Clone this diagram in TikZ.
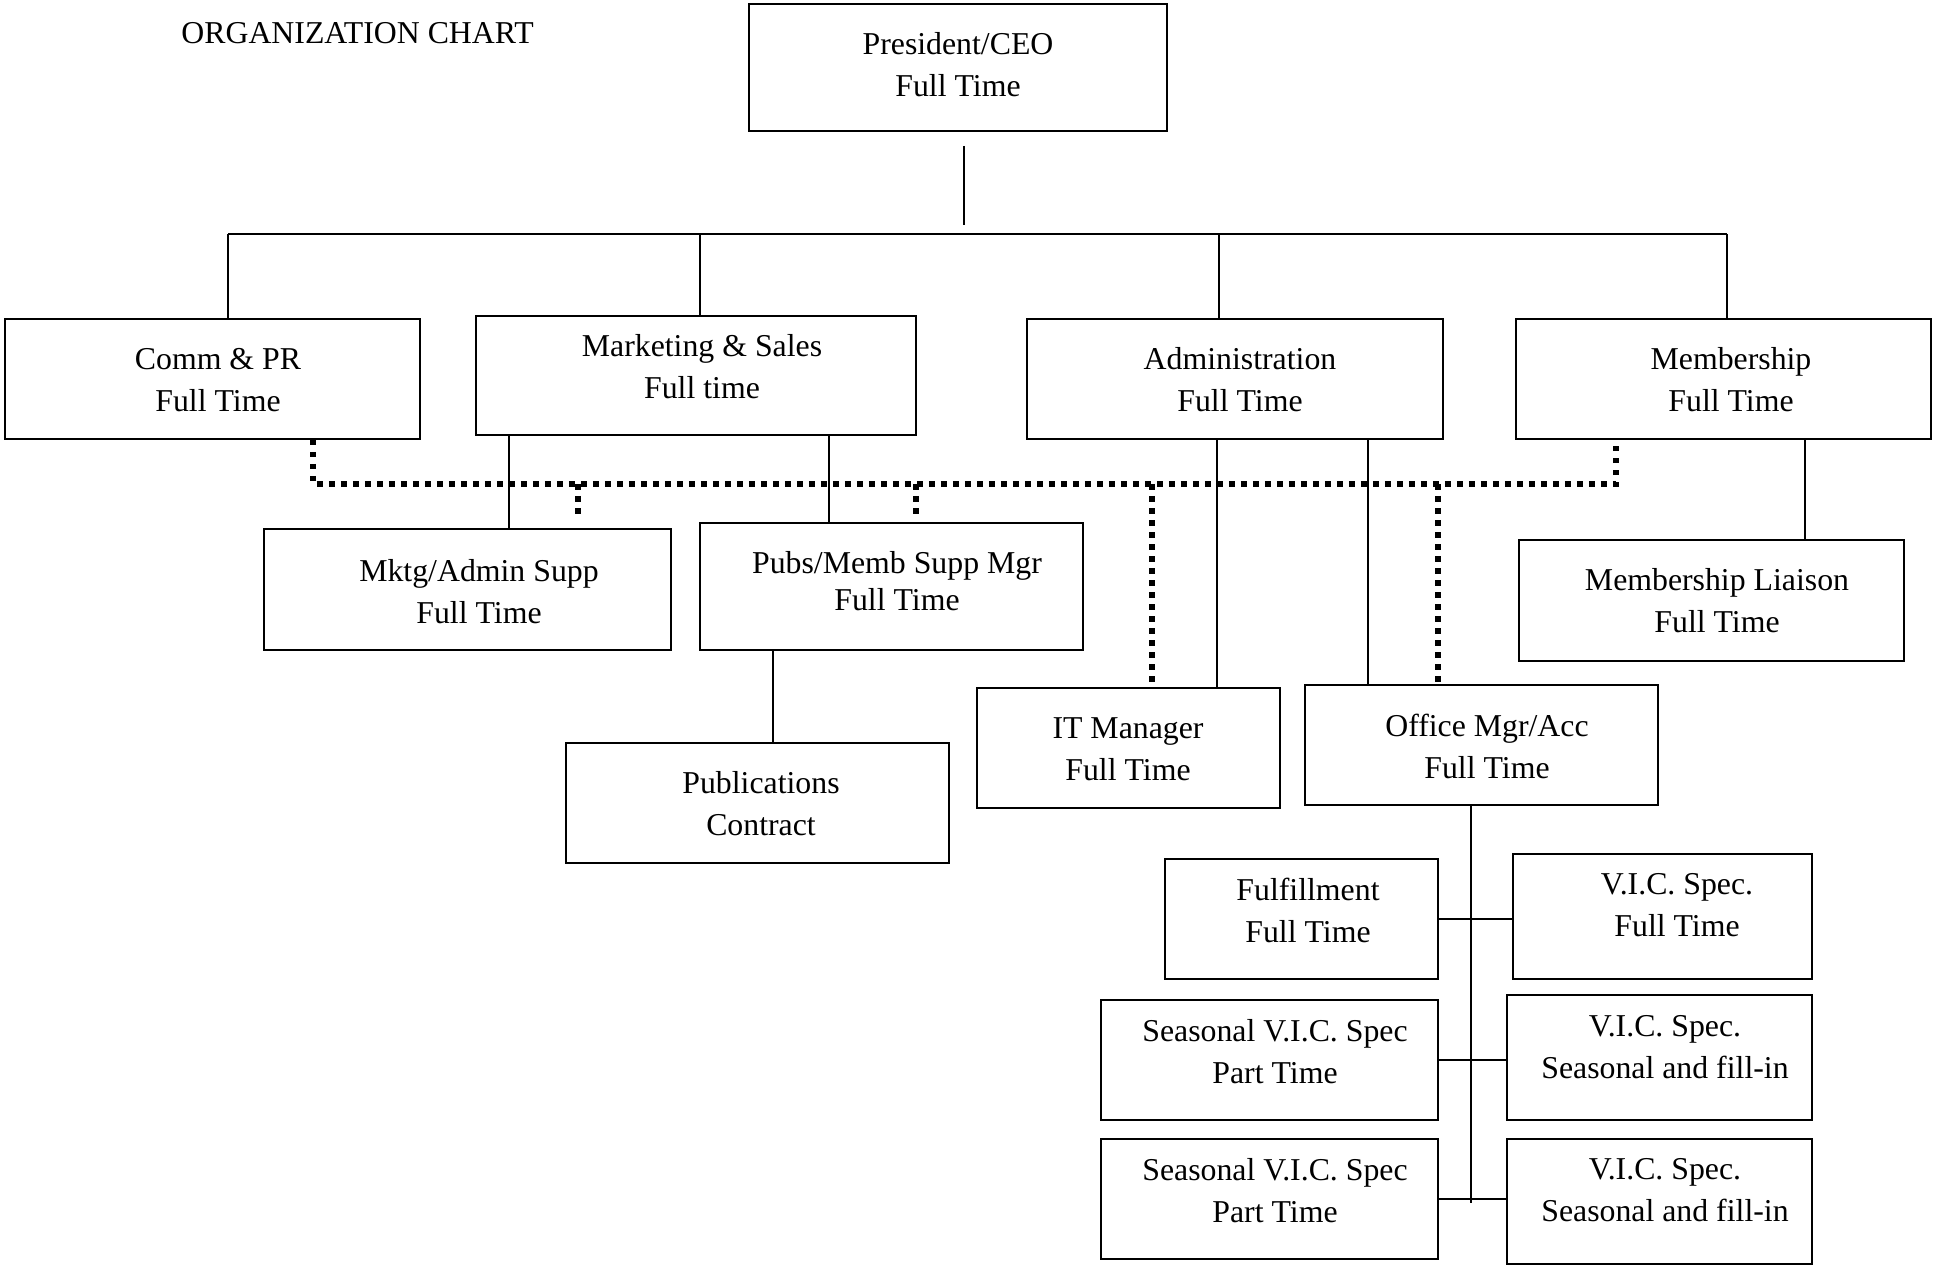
\documentclass[tikz,border=0pt]{standalone}
\usepackage{fontspec}
\setmainfont{Liberation Serif}
\usetikzlibrary{fit}
\newcommand\orgbox[8]{%
  \node[obox, fit={(#2,#3)(#4,#5)}] (#1) {};
  \node[otext] (#1t) at (#6,#7) {#8};}
\begin{document}
\begin{tikzpicture}[x=0.5pt,y=-0.5pt,
  obox/.style={draw, line width=0.9pt, inner sep=0pt},
  otext/.style={align=center, inner sep=0pt, font=\fontsize{15.9}{21}\selectfont},
  conn/.style={line width=0.6pt},
  dotl/.style={line width=2.8pt, dash pattern=on 2.8pt off 3.2pt}]
\useasboundingbox (0,0) rectangle (1933,1267);

\node[otext, anchor=west] (title) at (181,33) {ORGANIZATION CHART};

\orgbox{ceo}{749}{4}{1167}{131}{958}{65}{President/CEO\\Full Time}
\orgbox{comm}{5}{319}{420}{439}{218}{380}{Comm \& PR\\Full Time}
\orgbox{mkt}{476}{316}{916}{435}{702}{367}{Marketing \& Sales\\Full time}
\orgbox{adm}{1027}{319}{1443}{439}{1240}{380}{Administration\\Full Time}
\orgbox{mem}{1516}{319}{1931}{439}{1731}{380}{Membership\\Full Time}
\orgbox{mktg}{264}{529}{671}{650}{479}{592}{Mktg/Admin Supp\\Full Time}
\orgbox{pubs}{700}{523}{1083}{650}{897}{581}{Pubs/Memb Supp Mgr\\[-2.5pt]Full Time}
\orgbox{lia}{1519}{540}{1904}{661}{1717}{601}{Membership Liaison\\Full Time}
\orgbox{itm}{977}{688}{1280}{808}{1128}{749}{IT Manager\\Full Time}
\orgbox{off}{1305}{685}{1658}{805}{1487}{746}{Office Mgr/Acc\\Full Time}
\orgbox{pub}{566}{743}{949}{863}{761}{804}{Publications\\Contract}
\orgbox{ful}{1165}{859}{1438}{979}{1308}{910}{Fulfillment\\Full Time}
\orgbox{vica}{1513}{854}{1812}{979}{1677}{905}{V.I.C. Spec.\\Full Time}
\orgbox{seaa}{1101}{1000}{1438}{1120}{1275}{1052}{Seasonal V.I.C. Spec\\Part Time}
\orgbox{vicb}{1507}{995}{1812}{1120}{1665}{1047}{V.I.C. Spec.\\Seasonal and fill-in}
\orgbox{seab}{1101}{1139}{1438}{1259}{1275}{1191}{Seasonal V.I.C. Spec\\Part Time}
\orgbox{vicc}{1507}{1139}{1812}{1264}{1665}{1190}{V.I.C. Spec.\\Seasonal and fill-in}

% CEO to bar
\coordinate (ceoA) at (964,146);
\coordinate (ceoB) at (964,225);
\draw[conn] (ceoA) -- (ceoB);
\coordinate (bL) at (228,234);
\coordinate (bR) at (1727,234);
\coordinate (bM) at (700,234);
\coordinate (bA) at (1219,234);
\draw[conn] (bL) -- (bR);
\draw[conn] (bL) -- (bL |- comm.north);
\draw[conn] (bM) -- (bM |- mkt.north);
\draw[conn] (bA) -- (bA |- adm.north);
\draw[conn] (bR) -- (bR |- mem.north);

% solid reports
\coordinate (m1) at (509,0);
\coordinate (m2) at (829,0);
\coordinate (p1) at (773,0);
\coordinate (a1) at (1217,0);
\coordinate (a2) at (1368,0);
\coordinate (e1) at (1805,0);
\draw[conn] (m1 |- mkt.south) -- (m1 |- mktg.north);
\draw[conn] (m2 |- mkt.south) -- (m2 |- pubs.north);
\draw[conn] (p1 |- pubs.south) -- (p1 |- pub.north);
\draw[conn] (a1 |- adm.south) -- (a1 |- itm.north);
\draw[conn] (a2 |- adm.south) -- (a2 |- off.north);
\draw[conn] (e1 |- mem.south) -- (e1 |- lia.north);

% office trunk
\coordinate (tr) at (1471,1203);
\draw[conn] (tr |- off.south) -- (tr);
\draw[conn] (ful.east) -- (ful.east -| vica.west);
\draw[conn] (seaa.east) -- (seaa.east -| vicb.west);
\draw[conn] (seab.east) -- (seab.east -| vicc.west);

% dotted lines
\coordinate (dL) at (313,484);
\coordinate (dR) at (1616,484);
\draw[dotl] (dL |- comm.south) -- (dL) -- (dR) -- (dR |- mem.south);
\coordinate (d1) at (578,484);
\coordinate (d2) at (916,484);
\coordinate (d3) at (1152,484);
\coordinate (d4) at (1438,484);
\draw[dotl, shorten >=5pt] (d1) -- (d1 |- mktg.north);
\draw[dotl, shorten >=1.5pt] (d2) -- (d2 |- pubs.north);
\draw[dotl] (d3) -- (d3 |- itm.north);
\draw[dotl] (d4) -- (d4 |- off.north);
\end{tikzpicture}
\end{document}
